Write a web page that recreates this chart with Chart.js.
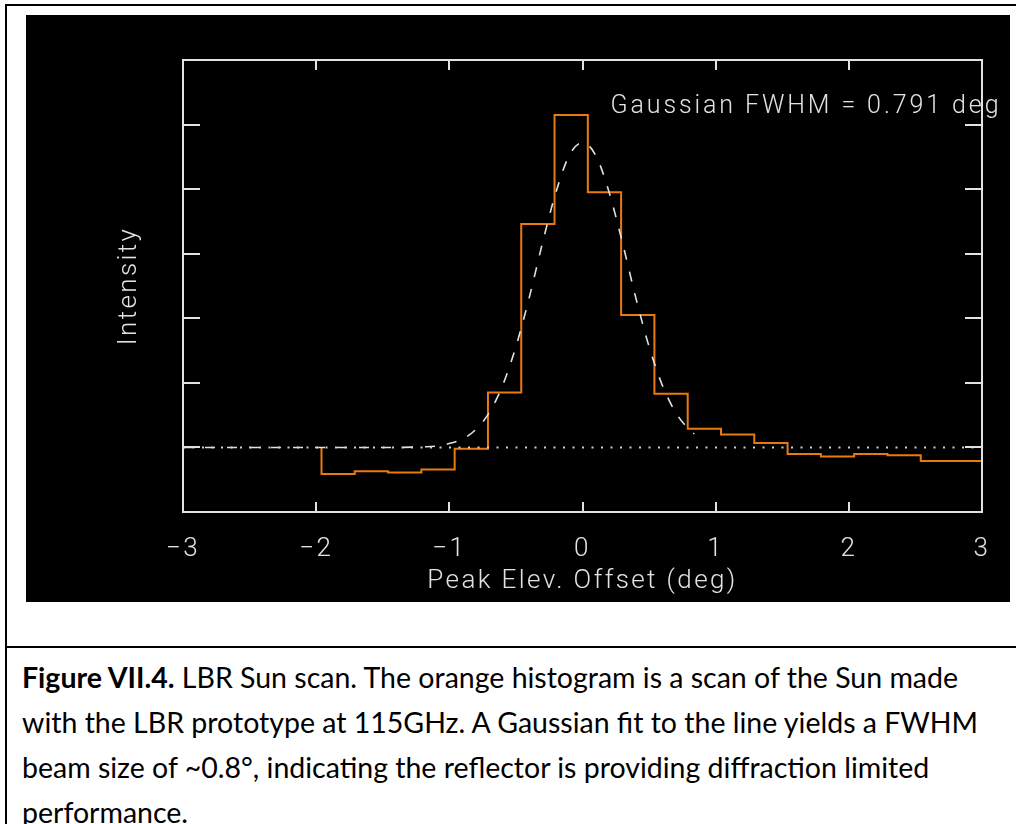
<!DOCTYPE html>
<html>
<head>
<meta charset="utf-8">
<script src="https://cdn.jsdelivr.net/npm/chart.js@4/dist/chart.umd.min.js"></script>
<style>
  html, body { margin: 0; padding: 0; background: #fff; }
  body { width: 1016px; height: 824px; position: relative; overflow: hidden; }
  .frame { position: absolute; left: 5px; top: 4px; width: 1030px; height: 840px; border: 2px solid #000; box-sizing: border-box; }
  .plot { position: absolute; left: 26px; top: 15px; width: 984px; height: 587px; background: #000; }
  .rule { position: absolute; left: 5px; top: 646px; width: 1011px; height: 2px; background: #000; }
  .caption {
    position: absolute; left: 22px; top: 655px; width: 994px;
    font-family: Lato, "Open Sans", sans-serif; font-size: 28.5px; line-height: 45px; color: #000;
    white-space: nowrap;
  }
</style>
</head>
<body>
<div class="frame"></div>
<div class="plot"><canvas id="scan" width="984" height="587"></canvas></div>
<div class="rule"></div>
<div class="caption">
  <b>Figure VII.4.</b> LBR Sun scan. The orange histogram is a scan of the Sun made<br>
  with the LBR prototype at 115GHz. A Gaussian fit to the line yields a FWHM<br>
  beam size of ~0.8°, indicating the reflector is providing diffraction limited<br>
  performance.
</div>
<script>
// Sun scan: binned intensity vs elevation offset
const BIN_EDGES = [-1.96, -1.71, -1.46, -1.21, -0.96, -0.71, -0.46, -0.21, 0.04, 0.29,
  0.54, 0.79, 1.04, 1.29, 1.54, 1.79, 2.04, 2.29, 2.54, 3.04];
const BIN_LEVELS = [-0.41, -0.37, -0.39, -0.34, -0.02, 0.85, 3.46, 5.15, 3.95, 2.05,
  0.83, 0.29, 0.20, 0.07, -0.10, -0.14, -0.10, -0.12, -0.21];

// Gaussian fit curve (dashed)
const FIT_X = [-3.0, -1.4, -1.2, -1.1, -1.0, -0.9, -0.8, -0.7, -0.6, -0.5, -0.4, -0.3,
  -0.2, -0.1, 0.0, 0.1, 0.2, 0.3, 0.4, 0.5, 0.6, 0.7, 0.8, 0.84];
const FIT_Y = [0, 0, 0.01, 0.02, 0.06, 0.13, 0.28, 0.54, 0.96, 1.56, 2.32, 3.17,
  3.95, 4.52, 4.72, 4.52, 3.95, 3.17, 2.32, 1.56, 0.96, 0.54, 0.28, 0.21];

// zero level (dotted)
const ZERO_X = [-3, 3];
const ZERO_Y = [0, 0];

const X_TICK_LABELS = ["\u22123", "\u22122", "\u22121", "0", "1", "2", "3"];
const FWHM_LABEL = "Gaussian FWHM = 0.791 deg";

const INK = "#e2e2e2";
const ORANGE = "#ea7a0e";
const AXIS_FONT = { family: "Roboto", size: 26, weight: 300 };

function histogramPoints() {
  const pts = [{ x: BIN_EDGES[0], y: 0 }];
  BIN_LEVELS.forEach((v, i) => pts.push({ x: BIN_EDGES[i], y: v }));
  pts.push({ x: BIN_EDGES[BIN_EDGES.length - 1], y: BIN_LEVELS[BIN_LEVELS.length - 1] });
  return pts;
}

const zip = (xs, ys) => xs.map((x, i) => ({ x, y: ys[i] }));

// wide plotter-style lettering for the axis text
const wideText = {
  id: "wideText",
  beforeDraw(chart) {
    chart.ctx.letterSpacing = "2.4px";
  }
};

// box around the plot with inward tick marks, plus the fit annotation
const boxAndTicks = {
  id: "boxAndTicks",
  afterDatasetsDraw(chart, args, opts) {
    const { ctx, chartArea: a, scales: { x, y } } = chart;
    ctx.save();
    ctx.strokeStyle = INK;
    ctx.lineWidth = 2;
    ctx.strokeRect(a.left, a.top, a.width, a.height);
    ctx.beginPath();
    x.ticks.forEach((t) => {
      const px = Math.round(x.getPixelForValue(t.value));
      ctx.moveTo(px, a.top); ctx.lineTo(px, a.top + 10);
      ctx.moveTo(px, a.bottom); ctx.lineTo(px, a.bottom - 10);
    });
    y.ticks.forEach((t) => {
      const py = Math.round(y.getPixelForValue(t.value));
      ctx.moveTo(a.left, py); ctx.lineTo(a.left + 17, py);
      ctx.moveTo(a.right, py); ctx.lineTo(a.right - 17, py);
    });
    ctx.stroke();

    ctx.fillStyle = INK;
    ctx.font = "300 25px Roboto";
    ctx.textBaseline = "middle";
    ctx.textAlign = "left";
    ctx.letterSpacing = "0px";
    const w = ctx.measureText(opts.text).width;
    ctx.letterSpacing = ((opts.width - w) / (opts.text.length - 1)).toFixed(2) + "px";
    ctx.fillText(opts.text, x.getPixelForValue(opts.at[0]), y.getPixelForValue(opts.at[1]));
    ctx.restore();
  }
};

new Chart(document.getElementById("scan"), {
  type: "line",
  data: {
    datasets: [
      {
        data: zip(ZERO_X, ZERO_Y),
        borderColor: "#cfcfcf",
        borderWidth: 2,
        borderDash: [2, 7.5],
        pointRadius: 0
      },
      {
        data: zip(FIT_X, FIT_Y),
        borderColor: INK,
        borderWidth: 1.6,
        borderDash: [10, 12],
        cubicInterpolationMode: "monotone",
        pointRadius: 0
      },
      {
        data: histogramPoints(),
        borderColor: ORANGE,
        borderWidth: 2,
        stepped: "before",
        pointRadius: 0
      }
    ]
  },
  options: {
    responsive: false,
    animation: false,
    devicePixelRatio: 1,
    layout: { padding: { top: 45, right: 28, left: 0, bottom: 0 } },
    plugins: {
      legend: { display: false },
      tooltip: { enabled: false },
      boxAndTicks: { text: FWHM_LABEL, width: 388, at: [0.21, 5.27] }
    },
    scales: {
      x: {
        type: "linear",
        min: -3,
        max: 3,
        grid: { display: false },
        border: { display: false },
        ticks: {
          stepSize: 1,
          color: INK,
          padding: 14,
          font: AXIS_FONT,
          callback: (v, i) => X_TICK_LABELS[i]
        },
        title: {
          display: true,
          text: "Peak Elev. Offset (deg)",
          color: INK,
          font: AXIS_FONT,
          padding: { top: 0, bottom: 5 }
        },
        afterFit: (s) => { s.height = 90; }
      },
      y: {
        min: -1,
        max: 6,
        grid: { display: false },
        border: { display: false },
        ticks: { stepSize: 1, display: false },
        title: {
          display: true,
          text: "Intensity",
          color: INK,
          font: AXIS_FONT,
          padding: { top: 88, bottom: 0 }
        },
        afterFit: (s) => { s.width = 157; }
      }
    }
  },
  plugins: [wideText, boxAndTicks]
});
</script>
</body>
</html>
